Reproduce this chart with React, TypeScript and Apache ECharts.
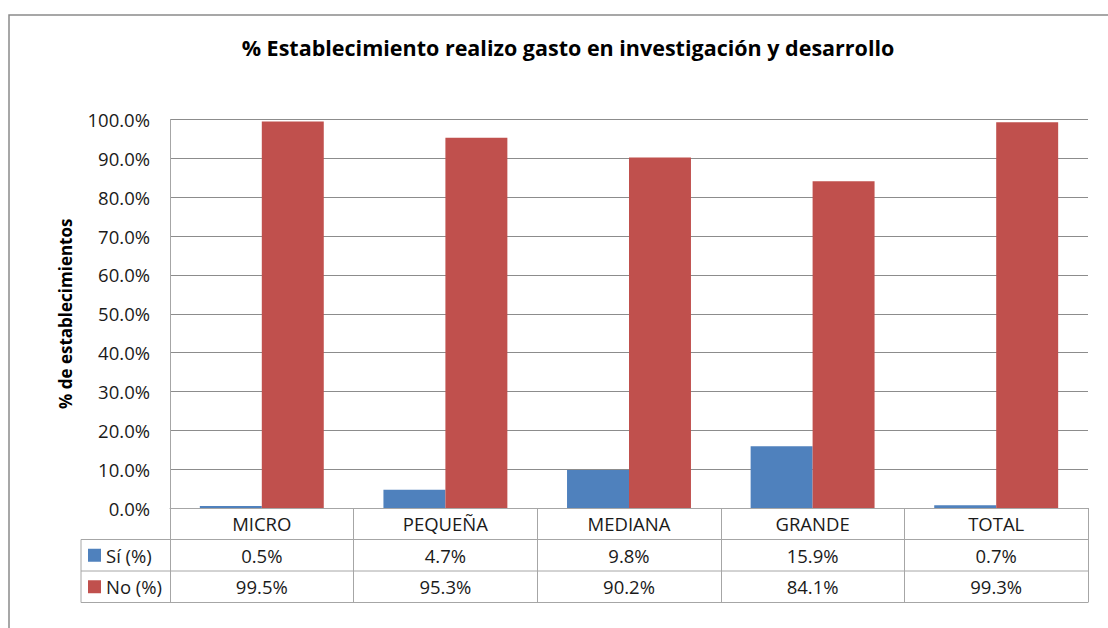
import React, { useEffect, useRef } from "react";
import * as echarts from "echarts";

const categories = ["MICRO", "PEQUEÑA", "MEDIANA", "GRANDE", "TOTAL"];
const siValues = [0.5, 4.7, 9.8, 15.9, 0.7];
const noValues = [99.5, 95.3, 90.2, 84.1, 99.3];
const seriesNames = ["Sí (%)", "No (%)"];
const seriesColors = ["#4F81BD", "#C0504D"];
const yTicks = [0, 10, 20, 30, 40, 50, 60, 70, 80, 90, 100];

const FONT = "'Open Sans', sans-serif";
const LINE = "#A6A6A6";
const TXT = "#1a1a1a";
const FS = 18.5;

export default function App() {
  const ref = useRef<HTMLDivElement>(null);
  useEffect(() => {
    const chart = echarts.init(ref.current!, null, { renderer: "svg" });
    const gridLeft = 170, gridTop = 119.5, gridRight = 1088, gridBottom = 508;
    const rowTops = [508, 539.5, 571, 602.5];
    const legendLeft = 81;
    chart.setOption({
      animation: false,
      backgroundColor: "#fff",
      title: {
        text: "% Establecimiento realizo gasto en investigación y desarrollo",
        left: 563,
        textAlign: "center",
        top: 31,
        textStyle: { fontFamily: FONT, fontSize: 21.5, fontWeight: "bold", color: "#000" },
      },
      grid: { left: gridLeft, top: gridTop, right: 1108 - gridRight, bottom: 628 - gridBottom, containLabel: false },
      xAxis: {
        type: "category",
        data: categories,
        axisLine: { show: true, lineStyle: { color: LINE, width: 1 } },
        axisTick: { show: true, interval: 0, length: rowTops[3] - rowTops[0], lineStyle: { color: LINE } },
        axisLabel: { interval: 0, margin: 6, fontFamily: FONT, fontSize: FS, color: TXT },
      },
      yAxis: {
        type: "value",
        min: yTicks[0],
        max: yTicks[yTicks.length - 1],
        interval: yTicks[1] - yTicks[0],
        name: "% de establecimientos",
        nameLocation: "middle",
        nameRotate: 90,
        nameGap: 96,
        nameTextStyle: { fontFamily: FONT, fontSize: 17, fontWeight: "bold", color: "#000" },
        axisLine: { show: true, lineStyle: { color: LINE } },
        axisTick: { show: false },
        splitLine: { show: true, lineStyle: { color: "#8C8C8C" } },
        axisLabel: {
          margin: 20,
          fontFamily: FONT,
          fontSize: FS,
          color: TXT,
          formatter: (v: number) => v.toFixed(1) + "%",
        },
      },
      series: [
        { type: "bar", name: seriesNames[0], data: siValues, itemStyle: { color: seriesColors[0] }, barGap: "0%", barCategoryGap: "32.5%" },
        { type: "bar", name: seriesNames[1], data: noValues, itemStyle: { color: seriesColors[1] }, barGap: "0%", barCategoryGap: "32.5%" },
      ],
    });

    const rows = [siValues, noValues];
    const els: any[] = [];
    els.push({
      type: "rect",
      shape: { x: 9, y: 15, width: 1200, height: 700 },
      style: { fill: "none", stroke: "#8A8A8A", lineWidth: 1.5 },
      silent: true,
    });
    for (let k = 1; k < rowTops.length; k++) {
      els.push({
        type: "line",
        shape: { x1: legendLeft, y1: rowTops[k], x2: gridRight, y2: rowTops[k] },
        style: { stroke: LINE, lineWidth: 1 },
      });
    }
    els.push({
      type: "line",
      shape: { x1: legendLeft, y1: rowTops[1], x2: legendLeft, y2: rowTops[3] },
      style: { stroke: LINE, lineWidth: 1 },
    });
    rows.forEach((vals, r) => {
      const cy = (rowTops[r + 1] + rowTops[r + 2]) / 2;
      els.push({
        type: "rect",
        shape: { x: 88, y: cy - 6.5, width: 13, height: 13 },
        style: { fill: seriesColors[r] },
      });
      els.push({
        type: "text",
        x: 106,
        y: cy,
        style: { text: seriesNames[r], fontFamily: FONT, fontSize: FS, fill: TXT, textVerticalAlign: "middle", textAlign: "left" },
      });
      vals.forEach((v, i) => {
        const px = chart.convertToPixel({ xAxisIndex: 0 }, categories[i]) as number;
        els.push({
          type: "text",
          x: px,
          y: cy,
          style: { text: v.toFixed(1) + "%", fontFamily: FONT, fontSize: FS, fill: TXT, textAlign: "center", textVerticalAlign: "middle" },
        });
      });
    });
    chart.setOption({ graphic: els });
    return () => chart.dispose();
  }, []);
  return <div ref={ref} style={{ position: "fixed", left: 0, top: 0, width: 1108, height: 628 }} />;
}
